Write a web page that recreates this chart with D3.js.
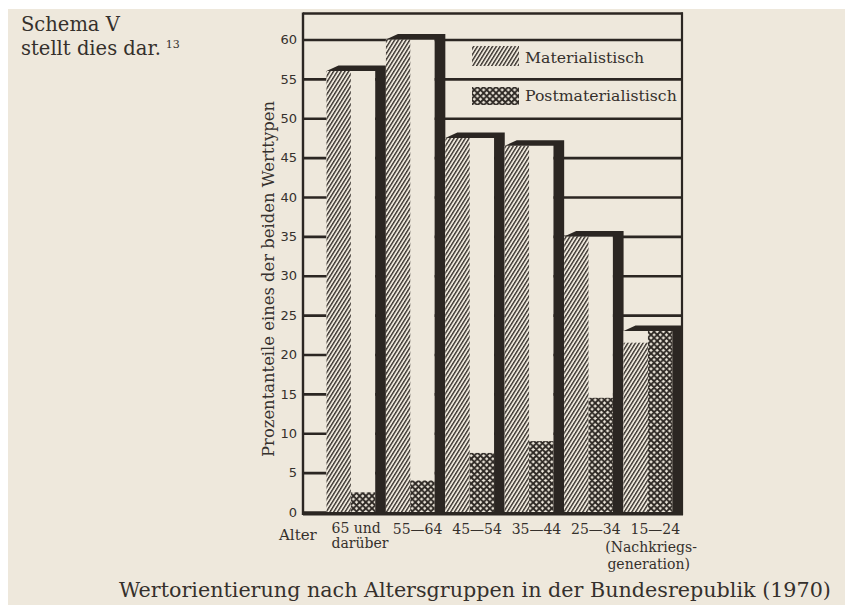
<!DOCTYPE html>
<html>
<head>
<meta charset="utf-8">
<script src="https://cdn.jsdelivr.net/npm/d3@7"></script>
<style>
  html, body { margin: 0; padding: 0; background: #fff; }
  svg { display: block; }
  .serif { font-family: "DejaVu Serif", serif; }
</style>
</head>
<body>
<div id="chart"></div>
<script>
// Wertorientierung nach Altersgruppen (1970)
const groups = ["65+", "55-64", "45-54", "35-44", "25-34", "15-24"];
const groupLabels = [["65 und", "darüber"], ["55—64"], ["45—54"], ["35—44"], ["25—34"], ["15—24", "(Nachkriegs-", "generation)"]];
const materialist = [56, 60, 47.5, 46.5, 35, 21.5];
const postmaterialist = [2.5, 4, 7.5, 9, 14.5, 23];
const yTicks = [0, 5, 10, 15, 20, 25, 30, 35, 40, 45, 50, 55, 60];
const legendLabels = ["Materialistisch", "Postmaterialistisch"];

const W = 848, H = 605;
const paper = "#eee8dc";
const ink = "#2b2622";
const textInk = "#35302c";

const svg = d3.select("#chart").append("svg")
  .attr("width", W).attr("height", H);

// patterns
const defs = svg.append("defs");
const hatch = defs.append("pattern")
  .attr("id", "hatch")
  .attr("patternUnits", "userSpaceOnUse")
  .attr("width", 3.2).attr("height", 10)
  .attr("patternTransform", "rotate(32)");
hatch.append("rect").attr("width", 3.2).attr("height", 10).attr("fill", paper);
hatch.append("line").attr("x1", 0.7).attr("y1", 0).attr("x2", 0.7).attr("y2", 10)
  .attr("stroke", ink).attr("stroke-width", 1.3);

const cp = 6.2;
const cross = defs.append("pattern")
  .attr("id", "cross")
  .attr("patternUnits", "userSpaceOnUse")
  .attr("width", cp).attr("height", cp);
cross.append("rect").attr("width", cp).attr("height", cp).attr("fill", paper);
cross.append("path")
  .attr("d", `M0,0 L${cp},${cp} M${cp},0 L0,${cp} M-1,1 L1,-1 M${cp - 1},${cp + 1} L${cp + 1},${cp - 1} M-1,${cp - 1} L1,${cp + 1} M${cp - 1},-1 L${cp + 1},1`)
  .attr("stroke", ink).attr("stroke-width", 1.9);

// paper
svg.append("rect").attr("x", 8).attr("y", 9).attr("width", 837).attr("height", H - 9).attr("fill", paper);

const y = d3.scaleLinear().domain([0, 60]).range([512, 39.5]);
const x = d3.scaleBand().domain(groups).range([326.5, 683]).padding(0);

const axisX = 303, frameRight = 682, frameTop = y(63.3), baseY = y(0);

// gridlines + tick labels
const yAxis = d3.axisLeft(y)
  .tickValues(yTicks)
  .tickSize(-(frameRight - axisX))
  .tickPadding(6)
  .tickFormat(d3.format("d"));

const ga = svg.append("g").attr("transform", `translate(${axisX},0)`).call(yAxis);
ga.select(".domain").remove();
ga.selectAll(".tick line").attr("stroke", ink).attr("stroke-width", 2.6);
ga.selectAll(".tick text")
  .attr("fill", textInk)
  .style("font-family", "'DejaVu Sans', sans-serif")
  .style("font-size", "13px");

// frame
const frame = svg.append("g").attr("stroke", ink).attr("fill", "none");
frame.append("line").attr("x1", axisX).attr("x2", axisX).attr("y1", frameTop - 1).attr("y2", baseY + 3).attr("stroke-width", 2.4);
frame.append("line").attr("x1", axisX).attr("x2", frameRight + 1).attr("y1", frameTop).attr("y2", frameTop).attr("stroke-width", 2.6);
frame.append("line").attr("x1", frameRight).attr("x2", frameRight).attr("y1", frameTop - 1).attr("y2", baseY + 3).attr("stroke-width", 2.2);

// bar groups
const bw = x.bandwidth();
const barW = bw * 0.41;
const slant = 12, band = 5.5;

const grp = svg.append("g").selectAll("g").data(groups).enter().append("g");

grp.each(function(g, i) {
  const s = d3.select(this);
  const x0 = x(g);
  const yt = y(Math.max(materialist[i], postmaterialist[i]));
  s.append("rect")
    .attr("x", x0).attr("y", yt).attr("width", barW * 2).attr("height", baseY - yt)
    .attr("fill", paper);
  s.append("rect")
    .attr("x", x0).attr("y", y(materialist[i]))
    .attr("width", barW).attr("height", baseY - y(materialist[i]))
    .attr("fill", "url(#hatch)");
  s.append("rect")
    .attr("x", x0 + barW).attr("y", y(postmaterialist[i]))
    .attr("width", barW).attr("height", baseY - y(postmaterialist[i]))
    .attr("fill", "url(#cross)");
  const pts = [
    [x0, yt], [x0 + slant, yt - band], [x0 + bw, yt - band],
    [x0 + bw, baseY + 1], [x0 + barW * 2, baseY + 1], [x0 + barW * 2, yt]
  ];
  s.append("path").attr("d", d3.line()(pts) + "Z").attr("fill", ink);
});

// baseline
svg.append("line")
  .attr("x1", axisX).attr("x2", frameRight + 1)
  .attr("y1", baseY + 2).attr("y2", baseY + 2)
  .attr("stroke", ink).attr("stroke-width", 3);

// legend
const legend = svg.append("g").attr("class", "serif");
legend.append("rect").attr("x", 472).attr("y", 46).attr("width", 47).attr("height", 20).attr("fill", "url(#hatch)");
legend.append("rect").attr("x", 472).attr("y", 87).attr("width", 47).attr("height", 18).attr("fill", "url(#cross)");
legend.selectAll("text").data(legendLabels).enter().append("text")
  .attr("x", 525).attr("y", (d, i) => i === 0 ? 63 : 101)
  .attr("fill", textInk).style("font-size", "15.7px")
  .text(d => d);

// x labels
const xl = svg.append("g").attr("class", "serif").attr("fill", textInk).style("font-size", "14px");
xl.append("text").attr("x", 279).attr("y", 540).style("font-size", "15px").text("Alter");
groups.forEach((g, i) => {
  const cx = x(g) + bw / 2 + 2;
  groupLabels[i].forEach((lab, j) => {
    const t = xl.append("text");
    if (i === 0) {
      t.attr("x", x(g) + 5).attr("y", 533 + j * 15).text(lab);
    } else if (j === 0) {
      t.attr("x", cx).attr("y", 534).attr("text-anchor", "middle").text(lab);
    } else {
      t.attr("x", j === 1 ? 697 : 690).attr("y", j === 1 ? 552 : 569)
        .attr("text-anchor", "end").text(lab);
    }
  });
});

// y title
svg.append("text").attr("class", "serif")
  .attr("transform", "translate(274,279) rotate(-90)")
  .attr("text-anchor", "middle")
  .attr("fill", textInk).style("font-size", "16.4px")
  .text("Prozentanteile eines der beiden Werttypen");

// header
const head = svg.append("g").attr("class", "serif").attr("fill", textInk).style("font-size", "19.5px");
head.append("text").attr("x", 21).attr("y", 31).text("Schema V");
const l2 = head.append("text").attr("x", 21).attr("y", 55).text("stellt dies dar.");
const l2Len = l2.node().getComputedTextLength();
head.append("text").attr("x", 21 + l2Len + 5).attr("y", 48).style("font-size", "11px").text("13");

// caption
const cap = svg.append("text").attr("class", "serif")
  .attr("x", 119).attr("y", 597)
  .attr("fill", textInk).style("font-size", "18px")
  .text("Wertorientierung nach Altersgruppen in der Bundesrepublik (1970)");
const capLen = cap.node().getComputedTextLength();
cap.style("font-size", (18 * 712 / capLen).toFixed(2) + "px");
</script>
</body>
</html>
